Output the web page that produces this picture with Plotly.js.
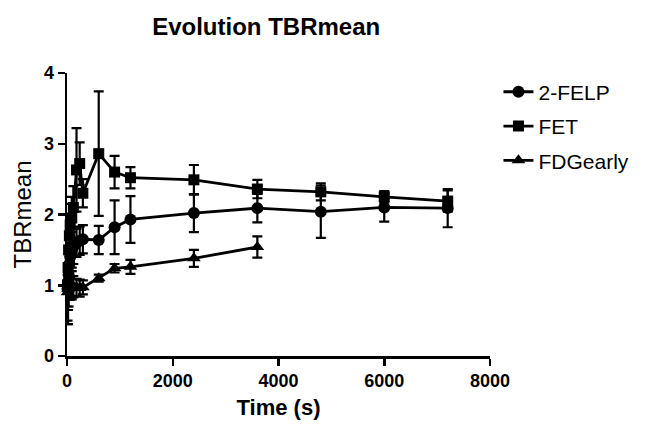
<!DOCTYPE html>
<html><head><meta charset="utf-8">
<script src="https://cdn.plot.ly/plotly-3.0.1.min.js"></script>
<style>body{margin:0;background:#fff}#c{width:646px;height:424px}</style>
</head><body><div id="c"></div>
<script>
const timesLong = [10,20,30,45,60,90,120,180,240,300,600,900,1200,2400,3600,4800,6000,7200];
const felpVals = [0.95,1.05,1.15,1.3,1.4,1.5,1.55,1.6,1.63,1.65,1.64,1.82,1.93,2.02,2.09,2.04,2.1,2.09];
const felpErr  = [0.45,0.4,0.35,0.3,0.3,0.25,0.25,0.2,0.2,0.2,0.2,0.38,0.33,0.27,0.2,0.37,0.2,0.27];
const fetVals  = [1.0,1.25,1.5,1.7,1.85,1.95,2.1,2.63,2.72,2.3,2.86,2.6,2.52,2.49,2.36,2.32,2.25,2.19];
const fetErr   = [0.3,0.3,0.3,0.3,0.3,0.3,0.3,0.59,0.3,0.2,0.88,0.23,0.15,0.21,0.13,0.12,0.08,0.15];
const timesFdg = [10,20,30,45,60,90,120,180,240,300,600,900,1200,2400,3600];
const fdgVals  = [0.9,0.95,1.0,1.05,1.0,1.0,0.98,0.97,0.96,0.97,1.1,1.24,1.26,1.38,1.54];
const fdgErr   = [0.45,0.5,0.3,0.25,0.2,0.2,0.15,0.12,0.12,0.1,0.05,0.06,0.1,0.12,0.15];
const seriesNames = ['2-FELP','FET','FDGearly'];
const xTicks = [0,2000,4000,6000,8000];
const yTicks = [0,1,2,3,4];

function tr(name,x,y,e,sym,size){
  return {x:x,y:y,name:name,legendgroup:name,type:'scatter',mode:'lines+markers',
    line:{color:'#000',width:2.8},
    marker:{symbol:sym,size:size,color:'#000'},
    error_y:{type:'data',array:e,visible:true,color:'#000',thickness:2.2,width:5},
    cliponaxis:false};
}
const data=[
  tr(seriesNames[0],timesLong,felpVals,felpErr,'circle',12),
  tr(seriesNames[1],timesLong,fetVals,fetErr,'square',11),
  tr(seriesNames[2],timesFdg,fdgVals,fdgErr,'triangle-up',12)
];
const font='Liberation Sans, Arial, sans-serif';
const layout={
  width:646,height:424,
  margin:{l:67,r:154,t:73,b:68},
  paper_bgcolor:'#fff',plot_bgcolor:'#fff',
  title:{text:'<b>Evolution TBRmean</b>',font:{family:font,size:24,color:'#000'},x:0.412,xanchor:'center',y:0.937,yanchor:'middle'},
  xaxis:{range:[0,8000],tickvals:xTicks,ticktext:xTicks.map(v=>'<b>'+v+'</b>'),showgrid:false,zeroline:false,
    showline:true,linecolor:'#000',linewidth:2.5,ticks:'outside',ticklen:7,tickwidth:2.5,tickcolor:'#000',
    tickfont:{family:font,size:18,color:'#000'},
    title:{text:'<b>Time (s)</b>',font:{family:font,size:22,color:'#000'},standoff:10}},
  yaxis:{range:[0,4],tickvals:yTicks,ticktext:yTicks.map(v=>'<b>'+v+'</b>'),showgrid:false,zeroline:false,
    showline:true,linecolor:'#000',linewidth:2.5,ticks:'outside',ticklen:7,tickwidth:2.5,tickcolor:'#000',
    tickfont:{family:font,size:18,color:'#000'},
    title:{text:'TBRmean',font:{family:font,size:24,color:'#000'},standoff:6}},
  showlegend:true,
  legend:{x:1.02,xanchor:'left',y:1.005,yanchor:'top',font:{family:font,size:21,color:'#000'},
    tracegroupgap:4,itemwidth:30,bgcolor:'rgba(0,0,0,0)'}
};
Plotly.newPlot('c',data,layout,{displayModeBar:false,staticPlot:true});
</script></body></html>
